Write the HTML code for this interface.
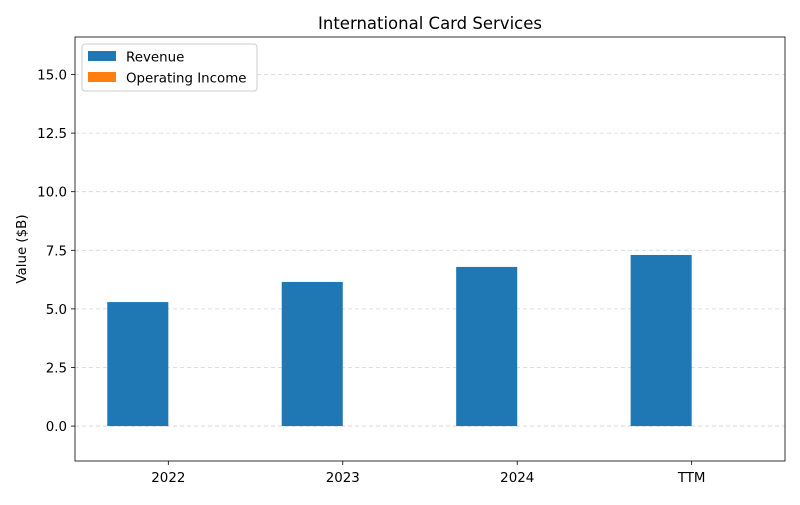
<!DOCTYPE html>
<html><head><meta charset="utf-8"><style>
body{margin:0;background:#fff;font-family:"Liberation Sans","DejaVu Sans",sans-serif}
svg text{font-family:"DejaVu Sans","Liberation Sans",sans-serif}
</style></head><body>
<svg id="chart" width="800" height="500" xmlns="http://www.w3.org/2000/svg"></svg>
<script>
const categories = ["2022","2023","2024","TTM"];
const revenue = [5.29, 6.15, 6.79, 7.30];
const operatingIncome = [0, 0, 0, 0];
const yTicks = [0, 2.5, 5.0, 7.5, 10.0, 12.5, 15.0];
const yTickLabels = ["0.0","2.5","5.0","7.5","10.0","12.5","15.0"];

const svg = document.getElementById('chart');
const NS = 'http://www.w3.org/2000/svg';
const L=75,R=785,T=37,B=461;
const yMin=-1.49,yMax=16.6,xMin=-0.535,xMax=3.535;
const FS=13.4;
const y = v => B - (v - yMin)/(yMax - yMin)*(B-T);
const x = v => L + (v - xMin)/(xMax - xMin)*(R-L);
function mk(tag, attrs, parent){const e=document.createElementNS(NS,tag);for(const k in attrs)e.setAttribute(k,attrs[k]);(parent||svg).appendChild(e);return e;}

yTicks.forEach((t,i)=>{
  const g=mk('line',{x1:L,x2:R,y1:y(t),y2:y(t),stroke:'#d3d3d3','stroke-dasharray':'4,3','stroke-width':0.8});
  
  
  const tk=mk('line',{x1:L-4,x2:L,y1:y(t),y2:y(t),stroke:'#000','stroke-width':0.8});
  
  
  const tx=mk('text',{x:L-8,y:y(t)+5,'text-anchor':'end','font-size':FS,fill:'#000'});
  tx.textContent=yTickLabels[i];
  
  
});
const bw=0.35;
categories.forEach((c,i)=>{
  const r=mk('rect',{x:x(i-bw),y:y(revenue[i]),width:x(i)-x(i-bw),height:y(0)-y(revenue[i]),fill:'#1f77b4'});
  
  
  const oh=Math.abs(y(0)-y(operatingIncome[i]));
  const o=mk('rect',{x:x(i),y:Math.min(y(0),y(operatingIncome[i])),width:x(i+bw)-x(i),height:oh,fill:'#ff7f0e'});
  
  
  const tk=mk('line',{x1:x(i),x2:x(i),y1:B,y2:B+4,stroke:'#000','stroke-width':0.8});
  
  
  const tx=mk('text',{x:x(i),y:B+21,'text-anchor':'middle','font-size':FS,fill:'#000'});
  tx.textContent=c;
  
  
});
const frame=mk('rect',{x:L,y:T,width:R-L,height:B-T,fill:'none',stroke:'#000','stroke-width':0.8});


const title=mk('text',{x:(L+R)/2,y:29,'text-anchor':'middle','font-size':16.5});
title.textContent='International Card Services';


const yl=mk('text',{x:0,y:0,'text-anchor':'middle','font-size':FS,transform:`translate(26,${(T+B)/2}) rotate(-90)`});
yl.textContent='Value ($B)';


const lg=mk('g',{});


mk('rect',{x:82,y:44,width:175,height:47,rx:3,fill:'#fff',stroke:'#ccc','stroke-width':1},lg);
[['Revenue','#1f77b4'],['Operating Income','#ff7f0e']].forEach((e,i)=>{
  const g=mk('g',{},lg);
  
  
  mk('rect',{x:88,y:51+i*21,width:28,height:10,fill:e[1]},g);
  const t=mk('text',{x:126,y:61.5+i*21,'font-size':FS},g);
  t.textContent=e[0];
});
</script>
</body></html>
